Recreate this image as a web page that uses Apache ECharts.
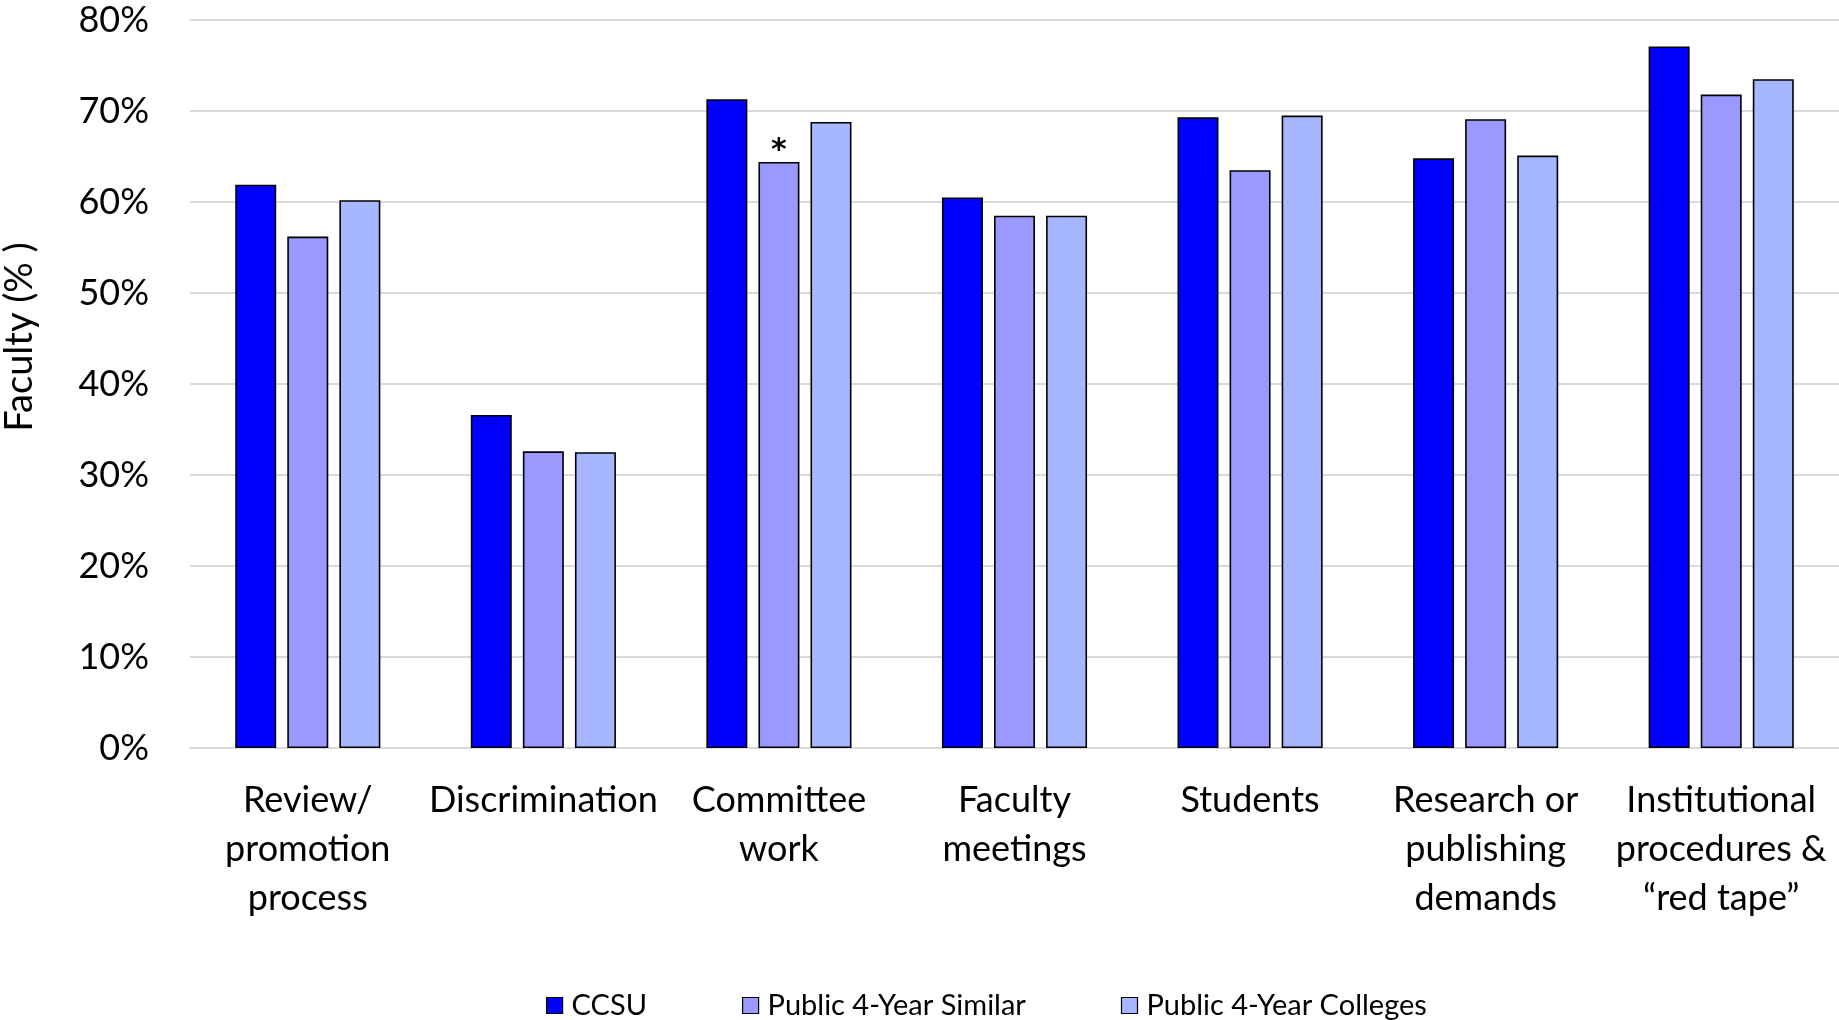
<!DOCTYPE html>
<html>
<head>
<meta charset="utf-8">
<title>Faculty stress sources</title>
<script src="https://cdn.jsdelivr.net/npm/echarts@6/dist/echarts.min.js"></script>
<style>
  html, body { margin: 0; padding: 0; background: #fff; }
  #chart { width: 1839px; height: 1020px; }
</style>
</head>
<body>
<div id="chart"></div>
<script>
// Sources of stress reported by faculty (%)
const categories = [
  'Review/\npromotion\nprocess',
  'Discrimination',
  'Committee\nwork',
  'Faculty\nmeetings',
  'Students',
  'Research or\npublishing\ndemands',
  'Institutional\nprocedures &\n\u201cred tape\u201d'
];
const seriesNames = ['CCSU', 'Public 4-Year Similar', 'Public 4-Year Colleges'];
const ccsu      = [61.9, 36.6, 71.3, 60.5, 69.3, 64.8, 77.1];
const similar   = [56.2, 32.6, 64.4, 58.5, 63.5, 69.1, 71.8];
const colleges  = [60.2, 32.5, 68.8, 58.5, 69.5, 65.1, 73.5];
// significance marker on the Committee work / Public 4-Year Similar bar
const markedIndex = 2;
const yTicks = [0, 10, 20, 30, 40, 50, 60, 70, 80];

const FONT = 'Lato, "Open Sans", sans-serif';
const colors = ['#0000FF', '#9999FF', '#A6B6FF'];

const chart = echarts.init(document.getElementById('chart'), null, { renderer: 'canvas' });

function barSeries(name, values, color, idx) {
  return {
    name: name,
    type: 'bar',
    barWidth: 41,
    barGap: '27%',
    itemStyle: { color: color, borderColor: '#000', borderWidth: 1.6 },
    data: values.map((v, i) => {
      if (idx === 1 && i === markedIndex) {
        return {
          value: v,
          label: {
            show: true, position: 'top', formatter: '*',
            fontSize: 30, fontWeight: 'bold', color: '#000',
            fontFamily: '"DejaVu Sans", sans-serif', distance: -4
          }
        };
      }
      return v;
    })
  };
}

chart.setOption({
  animation: false,
  backgroundColor: '#fff',
  textStyle: { fontFamily: FONT, color: '#000' },
  grid: { left: 190, right: 0, top: 20, bottom: 272, containLabel: false },
  xAxis: {
    type: 'category',
    data: categories,
    axisLine: { lineStyle: { color: '#d9d9d9', width: 2 } },
    axisTick: { show: false },
    axisLabel: {
      interval: 0, fontSize: 36, lineHeight: 49, color: '#000',
      fontFamily: FONT, margin: 28
    }
  },
  yAxis: {
    type: 'value',
    min: yTicks[0],
    max: yTicks[yTicks.length - 1],
    interval: 10,
    axisLine: { show: false },
    axisTick: { show: false },
    splitLine: { lineStyle: { color: '#d9d9d9', width: 2 } },
    axisLabel: {
      fontSize: 36, color: '#000', fontFamily: FONT, margin: 41,
      formatter: v => v + '%'
    }
  },
  legend: {
    left: 541, top: 986,
    icon: 'rect',
    itemWidth: 16, itemHeight: 16, itemGap: 95,
    textStyle: { fontSize: 29, color: '#000', fontFamily: FONT, padding: [0, 0, 0, 4] },
    itemStyle: { borderColor: '#000', borderWidth: 1.2 },
    data: seriesNames
  },
  graphic: [{
    type: 'text',
    x: 20, y: 337,
    rotation: Math.PI / 2,
    style: {
      text: 'Faculty (% )', fontSize: 38, fontFamily: FONT, fill: '#000',
      align: 'center', verticalAlign: 'middle'
    }
  }],
  series: [
    barSeries(seriesNames[0], ccsu, colors[0], 0),
    barSeries(seriesNames[1], similar, colors[1], 1),
    barSeries(seriesNames[2], colleges, colors[2], 2)
  ]
});
</script>
</body>
</html>
